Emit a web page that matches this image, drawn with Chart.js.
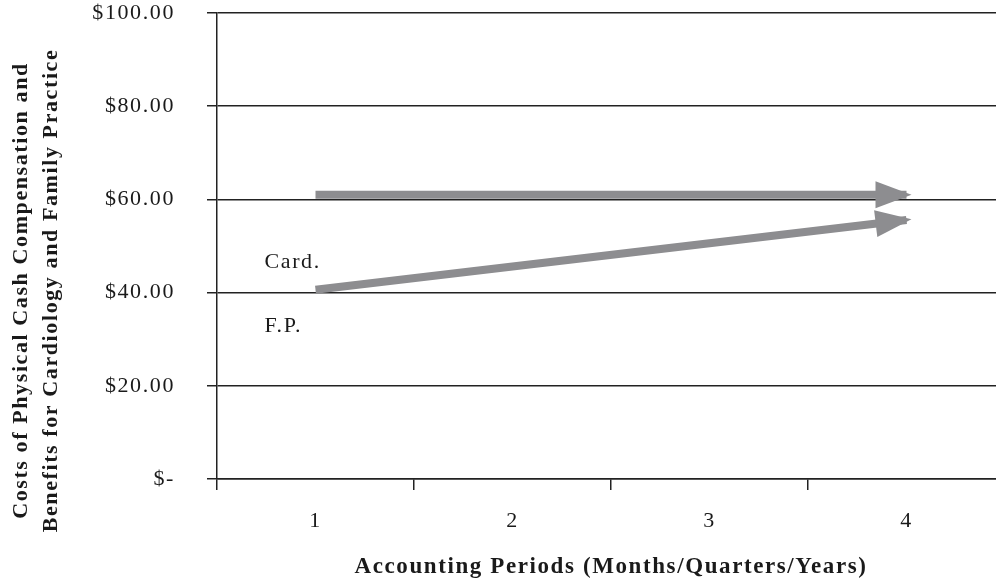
<!DOCTYPE html>
<html>
<head>
<meta charset="utf-8">
<script src="https://cdn.jsdelivr.net/npm/chart.js@4.4.1/dist/chart.umd.min.js"></script>
<style>
  html, body { margin: 0; padding: 0; background: #fff; overflow: hidden; }
  #wrap { position: relative; width: 1010px; height: 581px; }
</style>
</head>
<body>
<div id="wrap"><canvas id="c"></canvas></div>
<script>
// Accounting periods on the x axis
const periods = ['1', '2', '3', '4'];
// Cost per period (start and end of each trend arrow)
const cardiology = [61, null, null, 61];
const familyPractice = [40.6, null, null, 55.6];
// Value axis ticks
const yTicks = [0, 20, 40, 60, 80, 100];
// Text labels placed beside the arrow starts
const seriesLabels = ['Card.', 'F.P.'];
const labelValues = [46.6, 32.8];
// Axis titles
const xTitle = 'Accounting Periods (Months/Quarters/Years)';
const yTitle = ['Costs of Physical Cash Compensation and', 'Benefits for Cardiology and Family Practice'];

const SERIF = '"Liberation Serif", "Times New Roman", serif';
const INK = '#1a1a1a';
const ARROW_GREY = '#8d8d90';
const SPACING = '1.6px';

function money(v) {
  if (v === 0) return '$-';
  return '$' + v.toFixed(2);
}

// Slightly open letter spacing for all canvas text (reset whenever the canvas resizes)
const textSpacing = {
  id: 'textSpacing',
  beforeLayout(chart) { chart.ctx.letterSpacing = SPACING; },
  beforeDraw(chart) { chart.ctx.letterSpacing = SPACING; }
};

// Draws a triangular arrow head at the last point of each line
const arrowHeads = {
  id: 'arrowHeads',
  afterDatasetsDraw(chart) {
    const ctx = chart.ctx;
    chart.data.datasets.forEach((ds, i) => {
      const pts = chart.getDatasetMeta(i).data.filter(p => !p.skip);
      if (pts.length < 2) return;
      const a = pts[0], b = pts[pts.length - 1];
      const ang = Math.atan2(b.y - a.y, b.x - a.x);
      const len = 36, half = 13.5;
      const tx = b.x + 5 * Math.cos(ang), ty = b.y + 5 * Math.sin(ang);
      const bx = tx - len * Math.cos(ang), by = ty - len * Math.sin(ang);
      ctx.save();
      ctx.fillStyle = ds.borderColor;
      ctx.beginPath();
      ctx.moveTo(tx, ty);
      ctx.lineTo(bx - half * Math.sin(ang), by + half * Math.cos(ang));
      ctx.lineTo(bx + half * Math.sin(ang), by - half * Math.cos(ang));
      ctx.closePath();
      ctx.fill();
      ctx.restore();
    });
  }
};

// Series names beside the arrow starts, and the two-line value-axis title
const chartText = {
  id: 'chartText',
  afterDraw(chart) {
    const ctx = chart.ctx;
    const xs = chart.scales.x, ys = chart.scales.y;
    ctx.save();
    ctx.letterSpacing = SPACING;
    ctx.font = '22px ' + SERIF;
    ctx.fillStyle = INK;
    ctx.textAlign = 'left';
    ctx.textBaseline = 'middle';
    seriesLabels.forEach((t, i) => {
      const x = xs.getPixelForValue(0) - 51;
      ctx.fillText(t, x, ys.getPixelForValue(labelValues[i]));
    });
    // rotated value-axis title, centred on the full canvas height
    ctx.font = 'bold 22px ' + SERIF;
    ctx.textAlign = 'center';
    ctx.translate(0, chart.height / 2);
    ctx.rotate(-Math.PI / 2);
    ctx.fillText(yTitle[0], 0, 21);
    ctx.fillText(yTitle[1], 0, 51);
    ctx.restore();
  }
};

new Chart(document.getElementById('c'), {
  type: 'line',
  data: {
    labels: periods,
    datasets: [
      { label: seriesLabels[0], data: cardiology, borderColor: ARROW_GREY, borderWidth: 8,
        pointRadius: 0, spanGaps: true, borderCapStyle: 'butt', tension: 0 },
      { label: seriesLabels[1], data: familyPractice, borderColor: ARROW_GREY, borderWidth: 8,
        pointRadius: 0, spanGaps: true, borderCapStyle: 'butt', tension: 0 }
    ]
  },
  options: {
    responsive: true,
    maintainAspectRatio: false,
    animation: false,
    events: [],
    layout: { padding: { top: 13, right: 5, left: 0, bottom: 0 } },
    plugins: { legend: { display: false }, tooltip: { enabled: false } },
    scales: {
      x: {
        offset: true,
        grid: { offset: true, drawOnChartArea: false, drawTicks: true, tickLength: 11,
                color: '#222', lineWidth: 1.5 },
        border: { color: '#222', width: 1.5 },
        ticks: { font: { family: SERIF, size: 22 }, color: INK, padding: 18 },
        title: { display: true, text: xTitle,
                 font: { family: SERIF, size: 23, weight: 'bold' }, color: INK,
                 padding: { top: 13, bottom: 0 } },
        afterFit(s) { s.height = 102; }
      },
      y: {
        min: 0, max: 100,
        afterBuildTicks(s) { s.ticks = yTicks.map(v => ({ value: v })); },
        grid: { color: '#222', lineWidth: 1.5, tickLength: 10 },
        border: { color: '#222', width: 1.5 },
        ticks: { font: { family: SERIF, size: 22 }, color: INK, padding: 32,
                 callback: v => money(v) },
        afterFit(s) { s.width = 217; s.paddingTop = 0; s.paddingBottom = 0; }
      }
    }
  },
  plugins: [textSpacing, arrowHeads, chartText]
});
</script>
</body>
</html>
